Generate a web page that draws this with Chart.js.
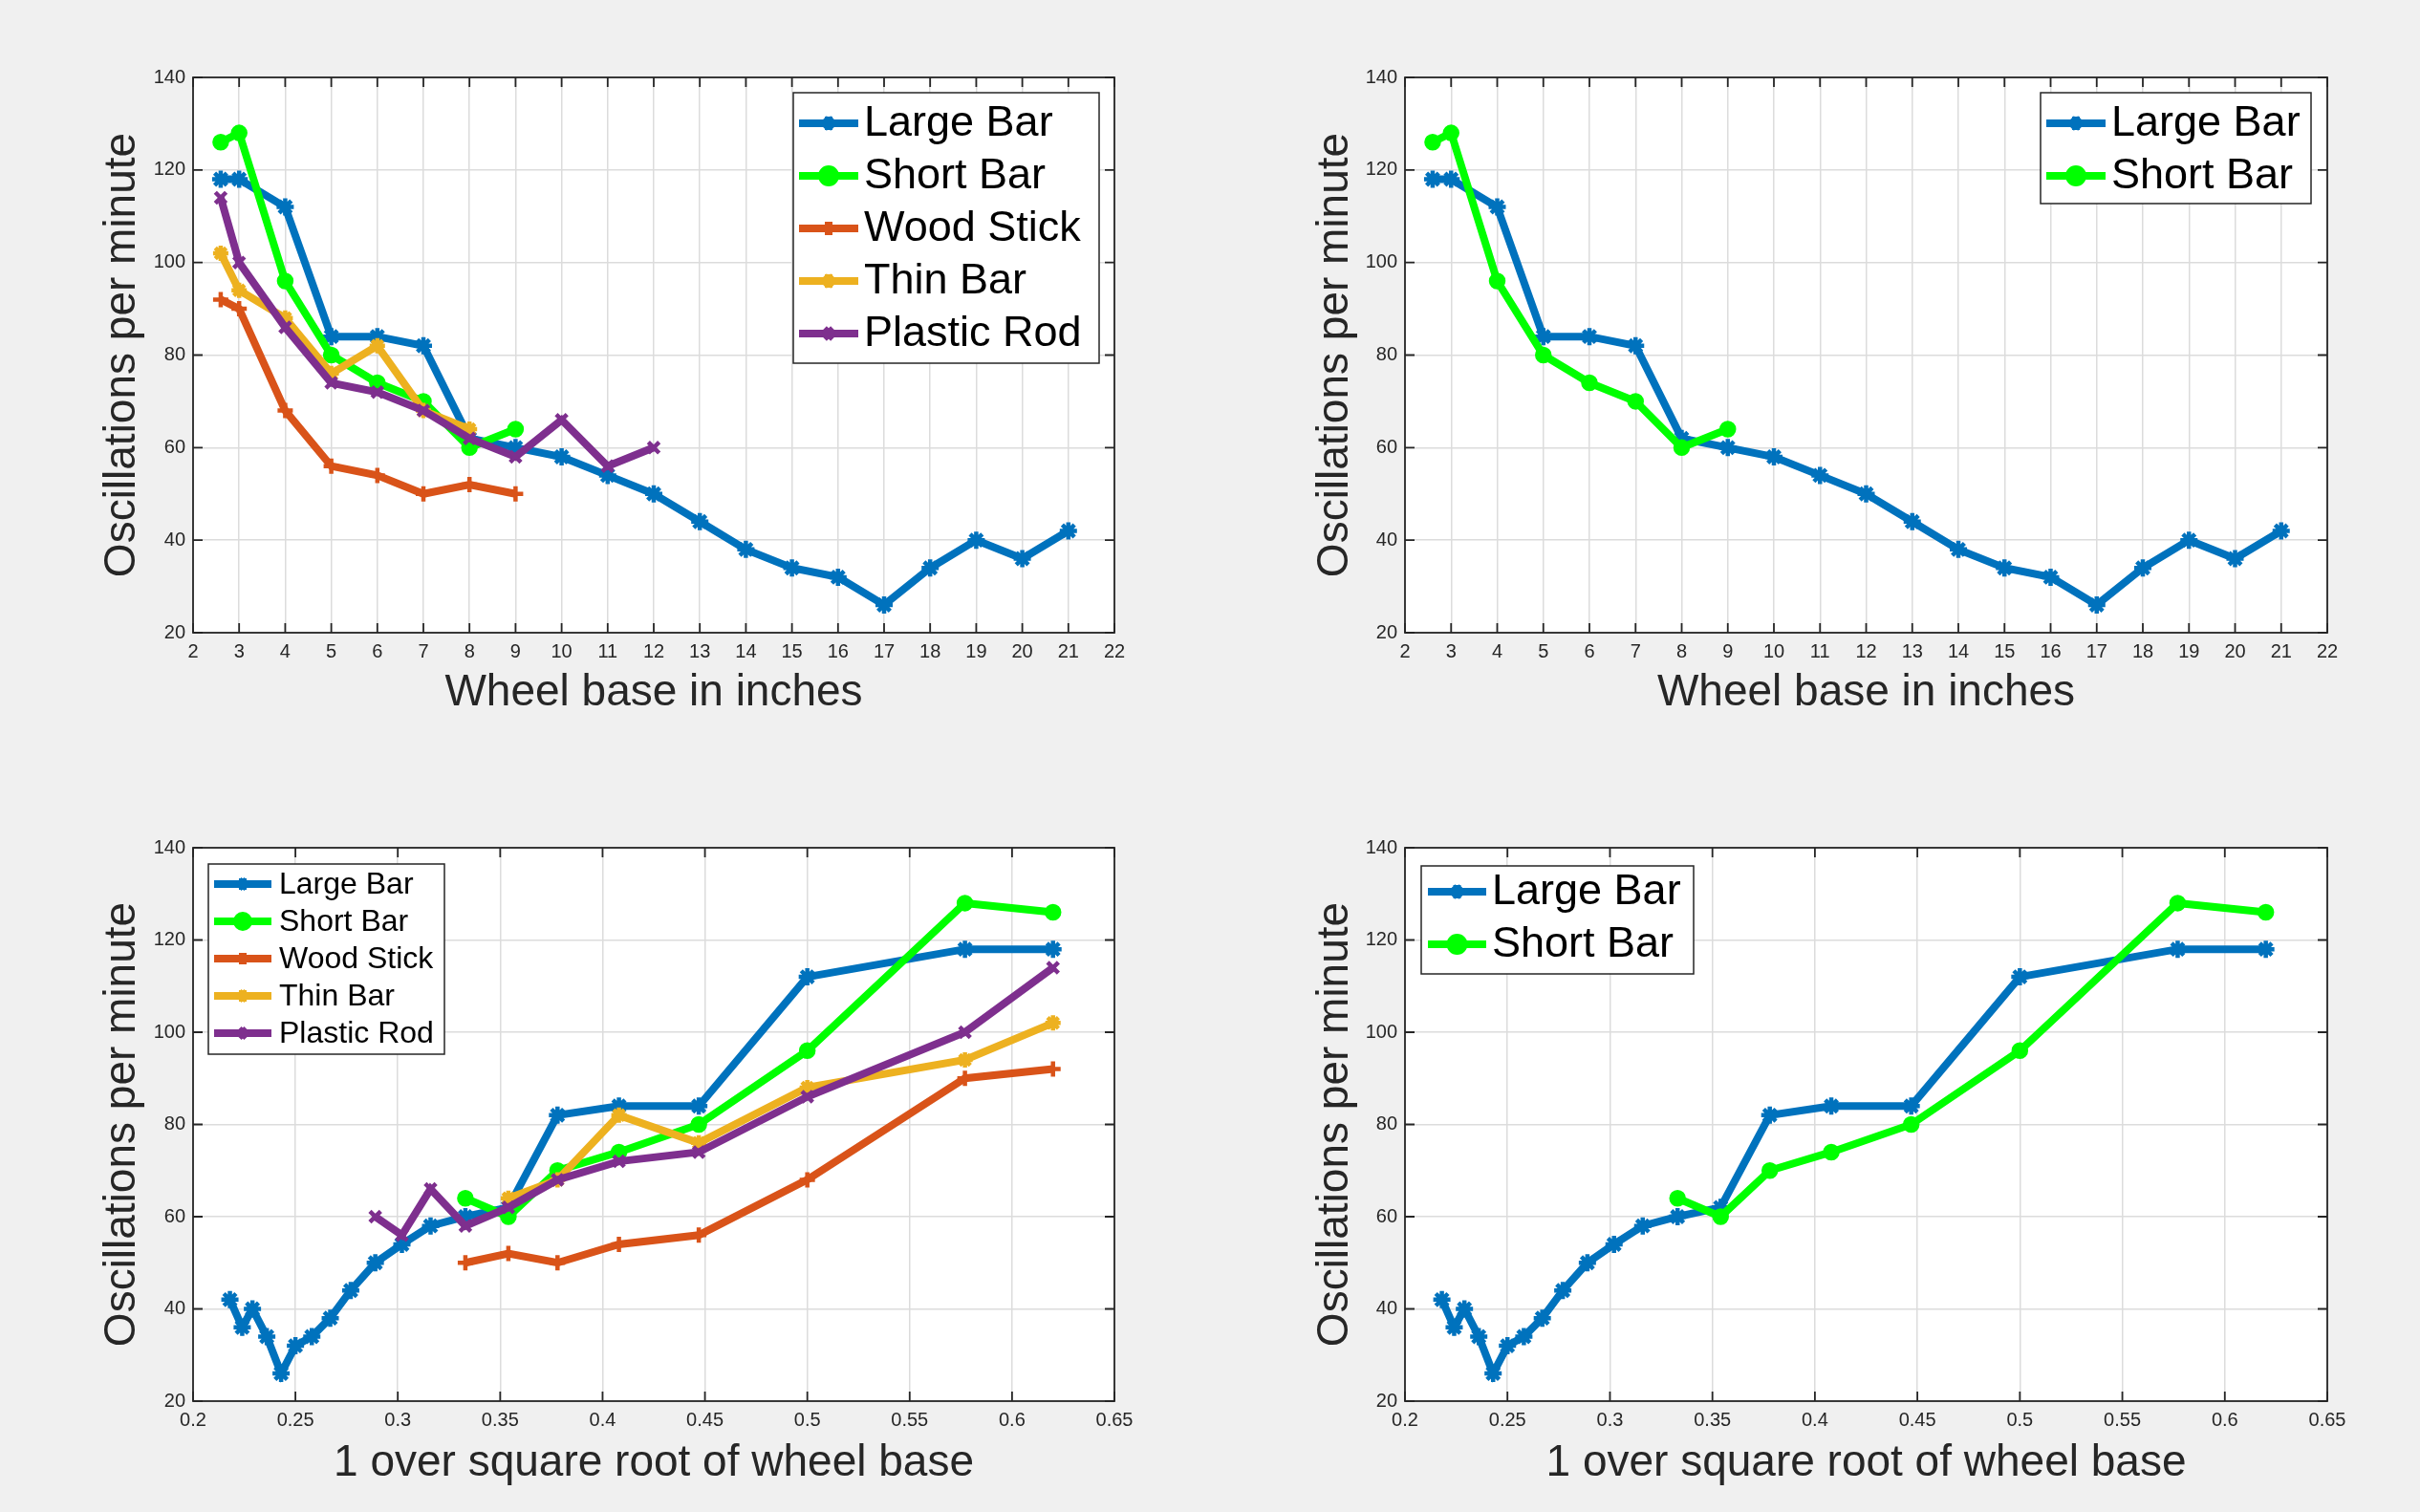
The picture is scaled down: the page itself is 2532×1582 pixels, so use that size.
<!DOCTYPE html>
<html>
<head>
<meta charset="utf-8">
<script src="https://cdn.jsdelivr.net/npm/chart.js@4.4.1/dist/chart.umd.min.js"></script>
<style>
  html, body { margin: 0; padding: 0; background: #f0f0f0; }
  .cell { position: absolute; width: 1266px; height: 791px; }
</style>
</head>
<body>
<div class="cell" style="left:0;top:0"><canvas id="c-tl" width="1266" height="791"></canvas></div>
<div class="cell" style="left:1266px;top:0"><canvas id="c-tr" width="1266" height="791"></canvas></div>
<div class="cell" style="left:0;top:791px"><canvas id="c-bl" width="1266" height="791"></canvas></div>
<div class="cell" style="left:1266px;top:791px"><canvas id="c-br" width="1266" height="791"></canvas></div>
<script>
// wheel base (inches) and 1/sqrt(wheel base)
const wheelBase = [2.6, 3, 4, 5, 6, 7, 8, 9, 10, 11, 12, 13, 14, 15, 16, 17, 18, 19, 20, 21]
const invRootBase = [0.620, 0.577, 0.5, 0.447, 0.408, 0.378, 0.354, 0.333, 0.316, 0.302, 0.289, 0.277, 0.267, 0.258, 0.25, 0.243, 0.236, 0.229, 0.224, 0.218]

// oscillations per minute
const largeBar = [118, 118, 112, 84, 84, 82, 62, 60, 58, 54, 50, 44, 38, 34, 32, 26, 34, 40, 36, 42]
const shortBar = [126, 128, 96, 80, 74, 70, 60, 64]
const woodStick = [92, 90, 68, 56, 54, 50, 52, 50]
const thinBar = [102, 94, 88, 76, 82, 68, 64]
const plasticRod = [114, 100, 86, 74, 72, 68, 62, 58, 66, 56, 60]

const seriesNames = ['Large Bar', 'Short Bar', 'Wood Stick', 'Thin Bar', 'Plastic Rod']
const seriesValues = [largeBar, shortBar, woodStick, thinBar, plasticRod]
const seriesColors = ['#0072BD', '#00FF00', '#D95319', '#EDB120', '#7E2F8E']
const seriesMarkers = ['star', 'circle', 'cross', 'star', 'crossRot']
const markerSizes = [9, 6.5, 8, 8, 8]

const yTicks = [20, 40, 60, 80, 100, 120, 140]
const wheelTicks = { min: 2, max: 22, step: 1 }
const invTicks = { min: 0.2, max: 0.65, step: 0.05 }

const FONT = '"Liberation Sans", Arial, Helvetica, sans-serif'
const AXIS = '#262626'

function makeDatasets(xs, count) {
  return seriesNames.slice(0, count).map((name, i) => ({
    label: name,
    data: seriesValues[i].map((v, k) => ({ x: xs[k], y: v })),
    borderColor: seriesColors[i],
    backgroundColor: seriesColors[i],
    borderWidth: 8,
    showLine: true,
    pointStyle: seriesMarkers[i],
    pointRadius: markerSizes[i],
    pointBorderWidth: 4.5,
    pointBackgroundColor: seriesColors[i],
    pointBorderColor: seriesColors[i],
    order: count - i
  }))
}

// white plot area, MATLAB style box with inward ticks, and a legend inside the axes
const axesPlugin = {
  id: 'matAxes',
  beforeDraw(chart) {
    const a = chart.chartArea, ctx = chart.ctx
    ctx.save()
    ctx.fillStyle = '#ffffff'
    ctx.fillRect(a.left, a.top, a.right - a.left, a.bottom - a.top)
    ctx.restore()
  },
  afterDraw(chart, args, opts) {
    const a = chart.chartArea, ctx = chart.ctx
    const xs = chart.scales.x, ys = chart.scales.y
    ctx.save()
    ctx.strokeStyle = AXIS
    ctx.lineWidth = 1.8
    ctx.beginPath()
    xs.ticks.forEach(t => {
      const px = xs.getPixelForValue(t.value)
      ctx.moveTo(px, a.bottom); ctx.lineTo(px, a.bottom - 10)
      ctx.moveTo(px, a.top); ctx.lineTo(px, a.top + 10)
    })
    ys.ticks.forEach(t => {
      const py = ys.getPixelForValue(t.value)
      ctx.moveTo(a.left, py); ctx.lineTo(a.left + 10, py)
      ctx.moveTo(a.right, py); ctx.lineTo(a.right - 10, py)
    })
    ctx.stroke()
    ctx.strokeRect(a.left, a.top, a.right - a.left, a.bottom - a.top)

    const L = opts.legend
    if (L) {
      ctx.fillStyle = '#ffffff'
      ctx.fillRect(L.x, L.y, L.w, L.h)
      ctx.strokeStyle = AXIS
      ctx.lineWidth = 1.5
      ctx.strokeRect(L.x, L.y, L.w, L.h)
      ctx.font = L.font + 'px ' + FONT
      ctx.textBaseline = 'middle'
      ctx.textAlign = 'left'
      chart.data.datasets.forEach((ds, i) => {
        const yy = L.row0 + i * L.gap
        ctx.strokeStyle = ds.borderColor
        ctx.fillStyle = ds.borderColor
        ctx.lineWidth = L.lw
        ctx.beginPath()
        ctx.moveTo(L.x + L.lineX0, yy)
        ctx.lineTo(L.x + L.lineX1, yy)
        ctx.stroke()
        Chart.helpers.drawPoint(ctx, {
          pointStyle: ds.pointStyle, radius: L.mr, rotation: 0, borderWidth: 4
        }, L.x + (L.lineX0 + L.lineX1) / 2, yy)
        ctx.fillStyle = '#000000'
        ctx.fillText(ds.label, L.x + L.textX, yy + 1)
      })
    }
    ctx.restore()
  }
}

function drawPanel(cfg) {
  const canvas = document.getElementById(cfg.id)
  return new Chart(canvas, {
    type: 'scatter',
    data: { datasets: makeDatasets(cfg.xs, cfg.count) },
    options: {
      responsive: false,
      animation: false,
      layout: { padding: { top: cfg.top, right: cfg.right, left: 0, bottom: 0 } },
      plugins: {
        legend: { display: false },
        tooltip: { enabled: false },
        matAxes: { legend: cfg.legend }
      },
      scales: {
        x: {
          type: 'linear', min: cfg.ticks.min, max: cfg.ticks.max,
          afterFit: s => { s.height = cfg.xh },
          grid: { color: '#dcdcdc', lineWidth: 1.5, drawTicks: false },
          border: { display: false },
          ticks: {
            stepSize: cfg.ticks.step, padding: 8, color: AXIS,
            font: { family: FONT, size: 20 },
            maxRotation: 0, autoSkip: false,
            callback: v => String(Math.round(v * 100) / 100)
          },
          title: {
            display: true, text: cfg.xTitle, color: AXIS,
            font: { family: FONT, size: 46 },
            padding: { top: 0, bottom: cfg.xTitlePad }
          }
        },
        y: {
          type: 'linear', min: yTicks[0], max: yTicks[yTicks.length - 1],
          afterFit: s => { s.width = cfg.yw },
          grid: { color: '#dcdcdc', lineWidth: 1.5, drawTicks: false },
          border: { display: false },
          ticks: {
            stepSize: yTicks[1] - yTicks[0], padding: 8, color: AXIS,
            font: { family: FONT, size: 20 }
          },
          title: {
            display: true, text: 'Oscillations per minute', color: AXIS,
            font: { family: FONT, size: 46 },
            padding: { top: cfg.yTitlePad, bottom: 0 }
          }
        }
      }
    },
    plugins: [axesPlugin]
  })
}

const bigLegend = (x, w, h) => ({ x: x, y: 97, w: w, h: h, row0: 129, gap: 55, lineX0: 6, lineX1: 68, textX: 74, font: 45, lw: 8, mr: 7 })

const panels = [
  { id: 'c-tl', xs: wheelBase, count: 5, ticks: wheelTicks, xTitle: 'Wheel base in inches',
    top: 81, right: 100, yw: 202, xh: 129, xTitlePad: 38, yTitlePad: 101,
    legend: bigLegend(830, 320, 283) },
  { id: 'c-tr', xs: wheelBase, count: 2, ticks: wheelTicks, xTitle: 'Wheel base in inches',
    top: 81, right: 97, yw: 204, xh: 129, xTitlePad: 38, yTitlePad: 104,
    legend: bigLegend(869, 283, 116) },
  { id: 'c-bl', xs: invRootBase, count: 5, ticks: invTicks, xTitle: '1 over square root of wheel base',
    top: 96, right: 100, yw: 202, xh: 116, xTitlePad: 23, yTitlePad: 101,
    legend: { x: 218, y: 113, w: 247, h: 199, row0: 134, gap: 39, lineX0: 6, lineX1: 66, textX: 74, font: 32, lw: 8, mr: 6 } },
  { id: 'c-br', xs: invRootBase, count: 2, ticks: invTicks, xTitle: '1 over square root of wheel base',
    top: 96, right: 97, yw: 204, xh: 116, xTitlePad: 23, yTitlePad: 104,
    legend: { x: 221, y: 115, w: 285, h: 113, row0: 142, gap: 55, lineX0: 7, lineX1: 68, textX: 74, font: 45, lw: 8, mr: 7 } }
]

panels.forEach(drawPanel)
</script>
</body>
</html>
